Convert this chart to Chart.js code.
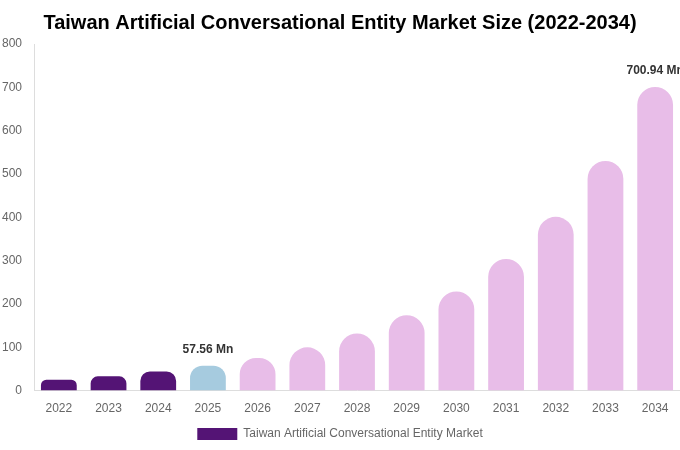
<!DOCTYPE html>
<html>
<head>
<meta charset="utf-8">
<script src="https://cdn.jsdelivr.net/npm/chart.js@4.4.0/dist/chart.umd.min.js"></script>
<style>
  html, body { margin: 0; padding: 0; background: #fff; }
  #wrap { width: 680px; height: 450px; }
</style>
</head>
<body>
<div id="wrap"><canvas id="marketChart"></canvas></div>
<script>
// chart data
const years = ['2022', '2023', '2024', '2025', '2026', '2027', '2028', '2029', '2030', '2031', '2032', '2033', '2034'];
const marketSize = [25, 33, 44, 57.56, 75, 100, 132, 174, 229, 304, 401, 530, 700.94];
const yTicks = [0, 100, 200, 300, 400, 500, 600, 700, 800];
const labelledYears = ['2025', '2034'];

const barColors = years.map(y => {
    if (y < '2025') return '#541475';
    if (y === '2025') return '#a6cbdf';
    return '#e8bde8';
});

// writes "xx Mn" over the chosen bars
const valueLabels = {
    id: 'valueLabels',
    afterDatasetsDraw(chart) {
        const ctx = chart.ctx;
        const meta = chart.getDatasetMeta(0);
        ctx.save();
        ctx.font = 'bold 12px "Liberation Sans", Arial, sans-serif';
        ctx.fillStyle = '#333';
        ctx.textAlign = 'center';
        ctx.textBaseline = 'bottom';
        years.forEach((y, i) => {
            if (!labelledYears.includes(y)) return;
            const bar = meta.data[i];
            ctx.fillText(marketSize[i] + ' Mn', bar.x, bar.y - 10);
        });
        ctx.restore();
    }
};

Chart.defaults.font.family = '"Liberation Sans", Arial, sans-serif';
Chart.defaults.color = '#666';

const ctx = document.getElementById('marketChart').getContext('2d');
const marketChart = new Chart(ctx, {
    type: 'bar',
    data: {
        labels: years,
        datasets: [{
            label: 'Taiwan Artificial Conversational Entity Market',
            data: marketSize,
            backgroundColor: barColors,
            borderRadius: { topLeft: 18, topRight: 18 },
            borderSkipped: 'bottom',
            barPercentage: 0.72,
            categoryPercentage: 1
        }]
    },
    options: {
        responsive: true,
        maintainAspectRatio: false,
        animation: false,
        layout: { padding: { left: 0, right: 0, top: 0, bottom: 0 } },
        plugins: {
            title: {
                display: true,
                text: 'Taiwan Artificial Conversational Entity Market Size (2022-2034)',
                color: '#000',
                font: { size: 20, weight: 'bold' },
                padding: { top: 11, bottom: 9 }
            },
            legend: {
                position: 'bottom',
                labels: { boxWidth: 40, boxHeight: 12, font: { size: 12 }, padding: 9 }
            },
            tooltip: { enabled: false }
        },
        scales: {
            x: {
                grid: { display: false },
                border: { color: '#ddd' },
                ticks: { font: { size: 12 }, padding: 3 }
            },
            y: {
                min: 0,
                max: 800,
                afterBuildTicks: axis => { axis.ticks = yTicks.map(v => ({ value: v })); },
                afterFit: axis => { axis.width = 34; },
                grid: { display: false },
                border: { color: '#ddd' },
                ticks: { font: { size: 12 }, padding: 4 }
            }
        }
    },
    plugins: [valueLabels]
});
</script>
</body>
</html>
